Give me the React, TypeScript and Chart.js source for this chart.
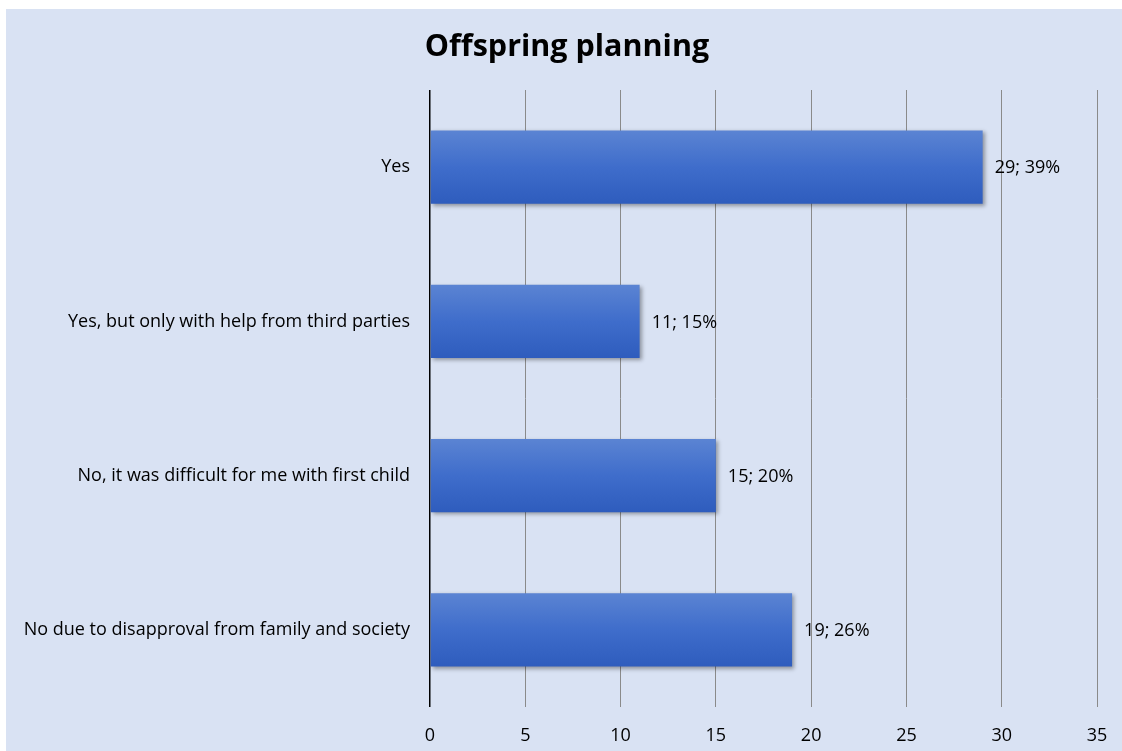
import React, { useEffect, useRef } from "react";
import { Chart, registerables } from "chart.js";

Chart.register(...registerables);

const TITLE = "Offspring planning";
const categories = [
  "Yes",
  "Yes, but only with help from third parties",
  "No, it was difficult for me with first child",
  "No due to disapproval from family and society",
];
const counts = [29, 11, 15, 19];
const percents = [39, 15, 20, 26];
const xTicks = [0, 5, 10, 15, 20, 25, 30, 35];

const FONT = "'Open Sans', Lato, sans-serif";
const BG = "#d9e2f3";

const shadowPlugin = {
  id: "barShadow",
  beforeDatasetsDraw(chart: any) {
    const ctx = chart.ctx;
    ctx.save();
    ctx.shadowColor = "rgba(0,0,0,0.35)";
    ctx.shadowBlur = 4;
    ctx.shadowOffsetX = 2;
    ctx.shadowOffsetY = 2;
  },
  afterDatasetsDraw(chart: any) {
    chart.ctx.restore();
  },
};

const labelPlugin = {
  id: "barLabels",
  afterDatasetsDraw(chart: any) {
    const ctx = chart.ctx;
    const meta = chart.getDatasetMeta(0);
    ctx.save();
    ctx.font = `18px ${FONT}`;
    ctx.fillStyle = "#000";
    ctx.textAlign = "left";
    ctx.textBaseline = "middle";
    meta.data.forEach((bar: any, i: number) => {
      ctx.fillText(`${counts[i]}; ${percents[i]}%`, bar.x + 12, bar.y + 1);
    });
    ctx.restore();
  },
};

const titlePlugin = {
  id: "customTitle",
  afterDraw(chart: any) {
    const ctx = chart.ctx;
    ctx.save();
    ctx.font = `bold 30.5px ${FONT}`;
    ctx.fillStyle = "#000";
    ctx.textAlign = "center";
    ctx.textBaseline = "middle";
    ctx.fillText(TITLE, 561, 38);
    ctx.restore();
  },
};

export default function App() {
  const ref = useRef<HTMLCanvasElement>(null);
  useEffect(() => {
    if (!ref.current) return;
    const chart = new Chart(ref.current, {
      type: "bar",
      data: {
        labels: categories,
        datasets: [
          {
            data: counts,
            backgroundColor: (c: any) => {
              const ch = c.chart;
              const ys = ch.scales && ch.scales.y;
              if (!ys || !ch.chartArea) return "#4472c4";
              const yc = ys.getPixelForValue(c.dataIndex);
              const g = ch.ctx.createLinearGradient(0, yc - 37, 0, yc + 37);
              g.addColorStop(0, "#5b84d3");
              g.addColorStop(0.5, "#3f6dcb");
              g.addColorStop(1, "#2e5cbd");
              return g;
            },
            borderWidth: 0,
            categoryPercentage: 1,
            barPercentage: 0.475,
          },
        ],
      },
      options: {
        indexAxis: "y",
        responsive: false,
        animation: false,
        maintainAspectRatio: false,
        layout: { padding: { top: 81, right: 25, left: 0, bottom: 0 } },
        plugins: {
          legend: { display: false },
          tooltip: { enabled: false },
          title: { display: false },
        },
        scales: {
          x: {
            min: 0,
            max: 35,
            afterBuildTicks: (s: any) => {
              s.ticks = xTicks.map((v) => ({ value: v }));
            },
            afterFit: (s: any) => {
              s.height = 44;
              s.paddingLeft = 0;
              s.paddingRight = 0;
            },
            grid: {
              drawTicks: false,
              color: (c: any) => (c.tick && c.tick.value === 0 ? "#000" : "#8a8a8a"),
              lineWidth: (c: any) => (c.tick && c.tick.value === 0 ? 1.5 : 1),
            },
            border: { display: false },
            ticks: {
              padding: 18,
              color: "#000",
              font: { family: FONT, size: 18 },
            },
          },
          y: {
            afterFit: (s: any) => {
              s.width = 424;
            },
            grid: { display: false, drawTicks: false },
            border: { display: false },
            ticks: {
              padding: 20,
              color: "#000",
              font: { family: FONT, size: 18 },
            },
          },
        },
      },
      plugins: [shadowPlugin, labelPlugin, titlePlugin],
    });
    return () => chart.destroy();
  }, []);
  return (
    <div
      style={{
        position: "fixed",
        left: 6,
        top: 9,
        width: 1116,
        height: 742,
        background: BG,
      }}
    >
      <canvas ref={ref} width={1116} height={742} style={{ display: "block" }} />
    </div>
  );
}
